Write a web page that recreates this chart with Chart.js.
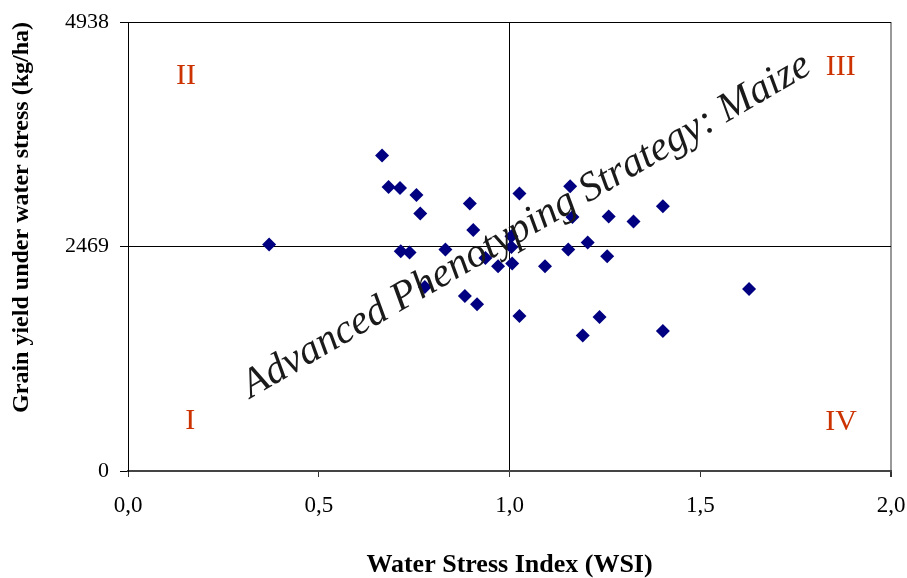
<!DOCTYPE html>
<html>
<head>
<meta charset="utf-8">
<title>Advanced Phenotyping Strategy: Maize</title>
<script src="https://cdn.jsdelivr.net/npm/chart.js@4/dist/chart.umd.min.js"></script>
<style>
    html, body { margin: 0; padding: 0; background: #fff; }
    #wrap { width: 907px; height: 578px; }
</style>
</head>
<body>
<div id="wrap"><canvas id="wsi-chart" width="907" height="578"></canvas></div>
<script>
// Water Stress Index of each hybrid (x)
const wsi = [
    0.370, 0.666, 0.683, 0.713, 0.756, 0.766, 0.896, 0.905, 0.715, 0.738,
    0.832, 0.778, 0.883, 0.915, 0.937, 0.970, 1.007, 1.005, 1.005, 1.026,
    1.026, 1.093, 1.159, 1.165, 1.154, 1.205, 1.256, 1.260, 1.325, 1.402,
    1.236, 1.192, 1.402, 1.628
];

// Grain yield under water stress, kg/ha (y)
const grainYield = [
    2490, 3469, 3123, 3112, 3035, 2831, 2941, 2650, 2416, 2402,
    2435, 2024, 1925, 1833, 2343, 2251, 2281, 2581, 2464, 3051,
    1705, 2251, 3131, 2793, 2435, 2512, 2361, 2798, 2743, 2911,
    1694, 1489, 1540, 2002
];

// Axis ticks
const xTicks = [0, 0.5, 1.0, 1.5, 2.0];
const yTicks = [0, 2469, 4938];

// Quadrant names
const quadrantNames = ['I', 'II', 'III', 'IV'];

const SERIF = '"Liberation Serif", "Times New Roman", serif';

drawChart();

function drawChart() {
    'use strict';

    const points = wsi.map(function(x, i) {
        return { x: x, y: grainYield[i] };
    });

    // label spots in data units, [wsi, yield]
    const quadrantSpots = [[0.163, 547], [0.152, 4340], [1.868, 4440], [1.869, 536]];

    // Draws the roman numerals and the slanted caption
    const overlayText = {
        id: 'overlayText',
        afterDatasetsDraw: function(chart) {
            const ctx = chart.ctx;
            const xs = chart.scales.x;
            const ys = chart.scales.y;

            ctx.save();
            ctx.font = '30px ' + SERIF;
            ctx.fillStyle = '#cc3300';
            ctx.textAlign = 'center';
            ctx.textBaseline = 'middle';
            quadrantNames.forEach(function(name, i) {
                const spot = quadrantSpots[i];
                ctx.fillText(name, xs.getPixelForValue(spot[0]), ys.getPixelForValue(spot[1]));
            });
            ctx.restore();

            // Caption across the chart
            ctx.save();
            ctx.translate(xs.getPixelForValue(0.322), ys.getPixelForValue(800));
            ctx.rotate(-30.1 * Math.PI / 180);
            ctx.font = 'italic 41px ' + SERIF;
            ctx.fillStyle = '#1a1a1a';
            ctx.textAlign = 'left';
            ctx.textBaseline = 'alphabetic';
            ctx.fillText('Advanced Phenotyping Strategy: Maize', 0, 0);
            ctx.restore();
        }
    };

    const ctx = document.getElementById('wsi-chart').getContext('2d');

    new Chart(ctx, {
        type: 'scatter',
        data: {
            datasets: [{
                label: 'Hybrids',
                data: points,
                pointStyle: 'rectRot',
                pointRadius: 7,
                pointHoverRadius: 7,
                backgroundColor: '#000080',
                borderColor: '#000080',
                borderWidth: 0
            }]
        },
        options: {
            responsive: false,
            animation: false,
            events: [],
            layout: {
                padding: { top: 22, right: 16, bottom: 0, left: 0 }
            },
            plugins: {
                legend: { display: false },
                tooltip: { enabled: false }
            },
            scales: {
                x: {
                    type: 'linear',
                    min: 0,
                    max: 2,
                    afterBuildTicks: function(scale) {
                        scale.ticks = xTicks.map(function(v) { return { value: v }; });
                    },
                    afterFit: function(scale) {
                        scale.height = 107;
                        // keep the plot box edges fixed, labels may overhang
                        scale.paddingLeft = 0;
                        scale.paddingRight = 0;
                    },
                    ticks: {
                        color: '#000',
                        padding: 15,
                        maxRotation: 0,
                        font: { family: SERIF, size: 23 },
                        callback: function(value) {
                            return Number(value).toFixed(1).replace('.', ',');
                        }
                    },
                    grid: {
                        drawOnChartArea: true,
                        tickLength: 6,
                        tickColor: '#333',
                        color: function(c) {
                            if (c.tick && c.tick.value === 1) return '#000';
                            if (c.tick && c.tick.value === 2) return '#999';
                            return 'rgba(0,0,0,0)';
                        },
                        lineWidth: function(c) {
                            return c.tick && c.tick.value === 2 ? 2 : 1;
                        }
                    },
                    border: { display: true, color: '#444', width: 2 },
                    title: {
                        display: true,
                        text: 'Water Stress Index (WSI)',
                        color: '#000',
                        padding: { top: 0, bottom: 0 },
                        font: { family: SERIF, size: 26, weight: 'bold', lineHeight: 1 }
                    }
                },
                y: {
                    type: 'linear',
                    min: 0,
                    max: 4938,
                    afterBuildTicks: function(scale) {
                        scale.ticks = yTicks.map(function(v) { return { value: v }; });
                    },
                    afterFit: function(scale) {
                        scale.width = 128;
                        scale.paddingTop = 0;
                        scale.paddingBottom = 0;
                    },
                    ticks: {
                        color: '#000',
                        padding: 11,
                        font: { family: SERIF, size: 22 },
                        callback: function(value) {
                            return String(value);
                        }
                    },
                    grid: {
                        drawOnChartArea: true,
                        tickLength: 8,
                        tickColor: '#000',
                        color: '#000',
                        lineWidth: 1
                    },
                    border: { display: true, color: '#000', width: 1 },
                    title: {
                        display: true,
                        text: 'Grain yield under water stress (kg/ha)',
                        align: 'end',
                        color: '#000',
                        padding: { top: 10, bottom: 8 },
                        font: { family: SERIF, size: 24, weight: 'bold', lineHeight: 1 }
                    }
                }
            }
        },
        plugins: [overlayText]
    });
}
</script>
</body>
</html>
